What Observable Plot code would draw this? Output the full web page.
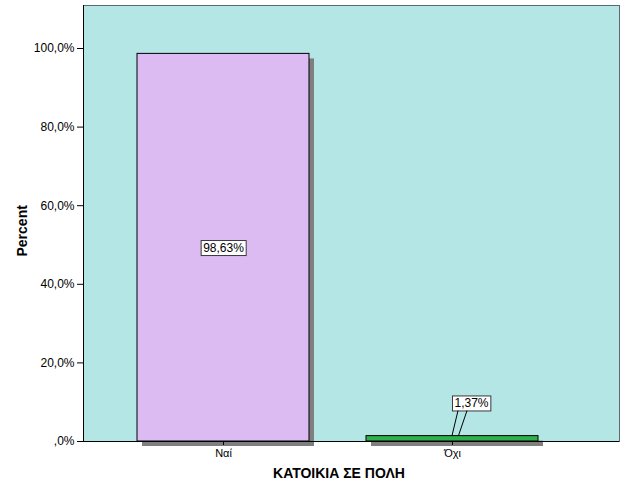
<!DOCTYPE html>
<html>
<head>
<meta charset="utf-8">
<script src="https://cdn.jsdelivr.net/npm/d3@7"></script>
<script src="https://cdn.jsdelivr.net/npm/@observablehq/plot@0.6"></script>
<style>
  html, body { margin: 0; padding: 0; background: #fff; }
  svg { display: block; }
</style>
</head>
<body>
<script>
const categories = ["Ναί", "Όχι"];
const percents = [98.63, 1.37];
const valueLabels = ["98,63%", "1,37%"];
const barColors = ["#dcbaf2", "#2eb04b"];
const yTicks = [0, 20, 40, 60, 80, 100];
const yTickLabels = [",0%", "20,0%", "40,0%", "60,0%", "80,0%", "100,0%"];
const xTitle = "ΚΑΤΟΙΚΙΑ ΣΕ ΠΟΛΗ";
const yTitle = "Percent";

const data = categories.map((c, i) => ({cat: c, value: percents[i], label: valueLabels[i], color: barColors[i]}));
const font = "'Liberation Sans', Arial, sans-serif";

const chart = Plot.plot({
  width: 626,
  height: 501,
  marginLeft: 83,
  marginRight: 7,
  marginTop: 5,
  marginBottom: 60,
  style: {fontFamily: font, background: "#fff", color: "#000"},
  x: {domain: categories, range: [137, 538], paddingInner: 0.249, paddingOuter: 0, label: null},
  y: {domain: [0, 110.94], label: null},
  color: {type: "identity"},
  marks: [
    Plot.frame({fill: "#b4e6e6", stroke: "none"}),
    Plot.barY(data, {x: "cat", y: "value", fill: "#7f7f7f", dx: 5, dy: 5}),
    Plot.barY(data, {x: "cat", y: "value", fill: "color", stroke: "#000", strokeWidth: 1}),
    Plot.frame({stroke: "#5a6a72"}),
    Plot.frame({anchor: "left", stroke: "#000"}),
    Plot.ruleY([0], {stroke: "#000"}),
    Plot.axisY({ticks: yTicks, tickFormat: d => yTickLabels[yTicks.indexOf(d)], tickSize: 6, tickPadding: 3, fontSize: 12, label: null}),
    Plot.axisX({tickSize: 4, tickPadding: 4, fontSize: 11, label: null}),
    Plot.text(data, {filter: d => d.value >= 10, x: "cat", y: d => d.value / 2, text: "label", fontSize: 12, fill: "#000"}),
    Plot.text(data, {filter: d => d.value < 10, x: "cat", y: "value", text: "label", dx: 19, dy: -33, fontSize: 12, fill: "#000"}),
    Plot.text([xTitle], {frameAnchor: "bottom", dx: -12.5, dy: 36, fontSize: 14, fontWeight: "bold", fill: "#000"}),
    Plot.text([yTitle], {frameAnchor: "left", rotate: -90, dx: -61, dy: 33, fontSize: 14, fontWeight: "bold", fill: "#000"})
  ]
});
document.body.append(chart);

const NS = "http://www.w3.org/2000/svg";
const svg = chart.tagName.toLowerCase() === "svg" ? chart : chart.querySelector("svg");

// white boxes behind the value labels
Array.from(svg.querySelectorAll("text"))
  .filter(t => valueLabels.includes(t.textContent.trim()))
  .forEach(t => {
    const b = t.getBBox();
    const r = document.createElementNS(NS, "rect");
    r.setAttribute("x", b.x - 2);
    r.setAttribute("y", b.y);
    r.setAttribute("width", b.width + 4);
    r.setAttribute("height", b.height + 1);
    r.setAttribute("fill", "#fff");
    r.setAttribute("stroke", "#3a3a3a");
    r.setAttribute("stroke-width", 1);
    const tr = t.getAttribute("transform");
    if (tr) r.setAttribute("transform", tr);
    t.parentNode.insertBefore(r, t);
  });

// leader lines for the small outside label
const xs = chart.scale("x"), ys = chart.scale("y");
data.filter(d => d.value < 10).forEach(d => {
  const cx = xs.apply(d.cat) + xs.bandwidth / 2;
  const yTop = ys.apply(d.value);
  const boxBottom = yTop - 33 + 8;
  [[0, 6], [6.5, 15]].forEach(([a, b]) => {
    const l = document.createElementNS(NS, "line");
    l.setAttribute("x1", cx + a); l.setAttribute("y1", yTop);
    l.setAttribute("x2", cx + b); l.setAttribute("y2", boxBottom);
    l.setAttribute("stroke", "#000"); l.setAttribute("stroke-width", 1);
    svg.appendChild(l);
  });
});
</script>
</body>
</html>
